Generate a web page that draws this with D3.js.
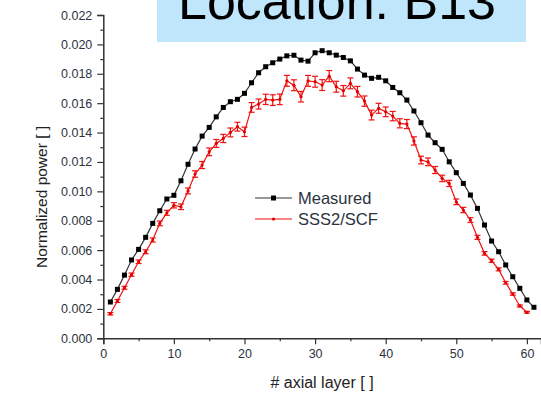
<!DOCTYPE html>
<html>
<head>
<meta charset="utf-8">
<script src="https://cdn.jsdelivr.net/npm/d3@7"></script>
<style>
  body { margin: 0; background: #fff; }
  svg { display: block; font-family: "Liberation Sans", Arial, sans-serif; }
</style>
</head>
<body>
<svg width="541" height="398"></svg>
<script>
// axial layer numbers
var measuredLayers = d3.range(1, 62);
var calcLayers = d3.range(1, 61);

var measured = [0.00247, 0.00333, 0.0043, 0.00533, 0.00605, 0.00687, 0.00782, 0.00868, 0.00948, 0.00973,
  0.01072, 0.01184, 0.01288, 0.01376, 0.01435, 0.01507, 0.01571, 0.0161, 0.01626, 0.01667,
  0.01739, 0.01807, 0.01848, 0.01875, 0.019, 0.01922, 0.01926, 0.01893, 0.01886, 0.01943,
  0.01957, 0.01943, 0.01927, 0.01911, 0.01888, 0.01832, 0.01791, 0.01769, 0.01776, 0.01752,
  0.01707, 0.01671, 0.01621, 0.01547, 0.01467, 0.01383, 0.01331, 0.01286, 0.01201, 0.01127,
  0.01054, 0.00975, 0.00884, 0.00771, 0.00662, 0.00589, 0.00499, 0.00419, 0.0034, 0.00261,
  0.00211];

var sss2 = [0.00167, 0.00254, 0.00344, 0.00433, 0.00521, 0.00589, 0.00669, 0.00782, 0.00854, 0.00905,
  0.00895, 0.01003, 0.01118, 0.01179, 0.01269, 0.01326, 0.0136, 0.01401, 0.0144, 0.01405,
  0.01571, 0.01594, 0.01626, 0.01621, 0.01626, 0.01752, 0.01722, 0.01644, 0.01752, 0.01746,
  0.01723, 0.01784, 0.01712, 0.01684, 0.01735, 0.01678, 0.01614, 0.01519, 0.01565, 0.01541,
  0.01512, 0.01463, 0.01458, 0.01343, 0.01213, 0.01201, 0.01145, 0.01088, 0.01054, 0.00929,
  0.00873, 0.00805, 0.00687, 0.00578, 0.00528, 0.00469, 0.00378, 0.00301, 0.0022, 0.00177];

var sss2Err = [0.00008, 0.0001, 0.0001, 0.00011, 0.00012, 0.00013, 0.00014, 0.00016, 0.00017, 0.00018,
  0.00019, 0.0002, 0.00022, 0.00024, 0.00026, 0.00027, 0.00028, 0.0003, 0.0003, 0.00032,
  0.00033, 0.00034, 0.00035, 0.00036, 0.00036, 0.00037, 0.00037, 0.00036, 0.00037, 0.00037,
  0.00037, 0.00038, 0.00037, 0.00036, 0.00037, 0.00036, 0.00035, 0.00033, 0.00034, 0.00033,
  0.00032, 0.00031, 0.00031, 0.00028, 0.00026, 0.00026, 0.00024, 0.00022, 0.00021, 0.00019,
  0.00018, 0.00016, 0.00014, 0.00012, 0.00011, 0.0001, 0.00009, 0.00008, 0.00007, 0.00006];

var xTicks = [0, 10, 20, 30, 40, 50, 60];
var yTicks = [0, 0.002, 0.004, 0.006, 0.008, 0.010, 0.012, 0.014, 0.016, 0.018, 0.020, 0.022];
var seriesNames = ["Measured", "SSS2/SCF"];
var titleText = "Location: B13";

var svg = d3.select("svg");

var x = d3.scaleLinear().domain([0, 62]).range([103.3, 541]);
var y = d3.scaleLinear().domain([0, 0.022]).range([338.3, 15]);

// axes
var xAxis = svg.append("g")
  .attr("transform", "translate(0," + y(0) + ")")
  .call(d3.axisBottom(x).tickValues(xTicks).tickFormat(d3.format("d")).tickSize(6).tickPadding(5));
svg.append("g")
  .attr("transform", "translate(0," + y(0) + ")")
  .call(d3.axisBottom(x).tickValues([5, 15, 25, 35, 45, 55]).tickFormat("").tickSize(3))
  .select(".domain").remove();

var yAxis = svg.append("g")
  .attr("transform", "translate(" + x(0) + ",0)")
  .call(d3.axisLeft(y).tickValues(yTicks).tickFormat(d3.format(".3f")).tickSize(6).tickPadding(5));
svg.append("g")
  .attr("transform", "translate(" + x(0) + ",0)")
  .call(d3.axisLeft(y).tickValues(d3.range(0.001, 0.022, 0.002)).tickFormat("").tickSize(3))
  .select(".domain").remove();

svg.selectAll(".domain").attr("stroke", "#333").attr("stroke-width", 1.5);
svg.selectAll(".tick line").attr("stroke", "#333").attr("stroke-width", 1.2);
svg.selectAll(".tick text").attr("fill", "#2b3340").style("font-size", "12.5px")
  .style("font-family", "'Liberation Sans', Arial, sans-serif");

// axis titles
svg.append("text")
  .attr("x", 322).attr("y", 388)
  .attr("text-anchor", "middle")
  .style("font-size", "16px")
  .attr("fill", "#222")
  .text("# axial layer [ ]");

svg.append("text")
  .attr("transform", "translate(47,197) rotate(-90)")
  .attr("text-anchor", "middle")
  .style("font-size", "15.5px")
  .attr("fill", "#222")
  .text("Normalized power [ ]");

// measured line
var line = d3.line().x(d => x(d[0])).y(d => y(d[1]));
var mData = measuredLayers.map((l, i) => [l, measured[i]]);
var cData = calcLayers.map((l, i) => [l, sss2[i], sss2Err[i]]);

svg.append("path").datum(mData)
  .attr("d", line).attr("fill", "none").attr("stroke", "#333").attr("stroke-width", 1.2);
svg.append("g").selectAll("rect").data(mData).enter().append("rect")
  .attr("x", d => x(d[0]) - 2.5).attr("y", d => y(d[1]) - 2.5)
  .attr("width", 5).attr("height", 5).attr("fill", "#000");

// SSS2/SCF line with error bars
svg.append("path").datum(cData)
  .attr("d", line).attr("fill", "none").attr("stroke", "#f01010").attr("stroke-width", 1.2);
var eb = svg.append("g").attr("stroke", "#f01010").attr("stroke-width", 1.2);
cData.forEach(function(d) {
  var cx = x(d[0]), y0 = y(d[1] - d[2]), y1 = y(d[1] + d[2]);
  eb.append("line").attr("x1", cx).attr("x2", cx).attr("y1", y0).attr("y2", y1);
  eb.append("line").attr("x1", cx - 3).attr("x2", cx + 3).attr("y1", y0).attr("y2", y0);
  eb.append("line").attr("x1", cx - 3).attr("x2", cx + 3).attr("y1", y1).attr("y2", y1);
});
svg.append("g").selectAll("circle").data(cData).enter().append("circle")
  .attr("cx", d => x(d[0])).attr("cy", d => y(d[1])).attr("r", 1.6).attr("fill", "#e00000");

// legend
var legend = svg.append("g").attr("transform", "translate(255,198)");
seriesNames.forEach(function(name, i) {
  var g = legend.append("g").attr("transform", "translate(0," + (i * 21) + ")");
  var col = i === 0 ? "#333" : "#f01010";
  g.append("line").attr("x1", 0).attr("x2", 37).attr("y1", 0).attr("y2", 0)
    .attr("stroke", col).attr("stroke-width", 1.2);
  if (i === 0) {
    g.append("rect").attr("x", 16).attr("y", -2.5).attr("width", 5).attr("height", 5).attr("fill", "#000");
  } else {
    g.append("circle").attr("cx", 18.5).attr("cy", 0).attr("r", 1.6).attr("fill", "#e00000");
  }
  g.append("text").attr("x", 43).attr("y", 6)
    .style("font-size", "16.5px").attr("fill", "#2b3340").text(name);
});

// title box
svg.append("rect").attr("x", 157).attr("y", -5).attr("width", 369).attr("height", 47)
  .attr("fill", "#bfe6fb");
svg.append("text").attr("x", 178).attr("y", 19)
  .style("font-size", "52px").attr("fill", "#000").text(titleText);
</script>
</body>
</html>
